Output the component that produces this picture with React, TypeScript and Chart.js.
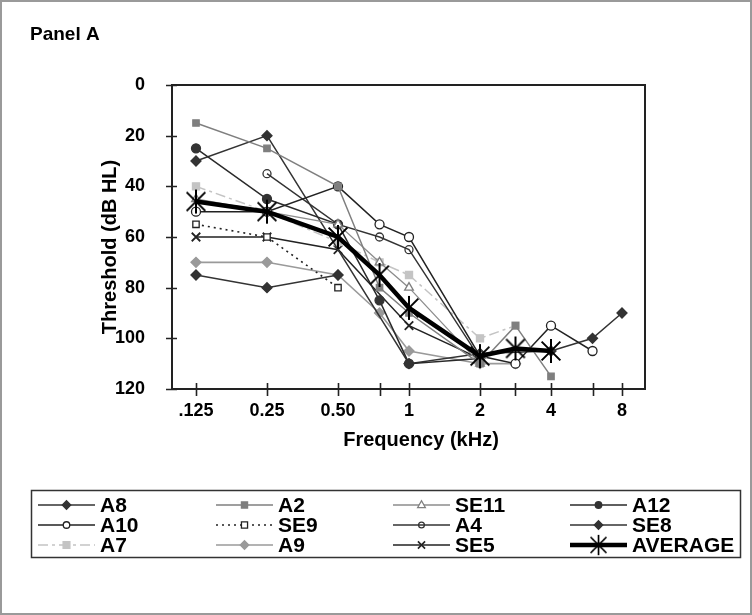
import React, { useEffect, useRef } from 'react';
import { Chart, registerables } from 'chart.js';
Chart.register(...registerables);

// Frequencies (kHz) and their position on the octave axis
const freqLabels = ['.125', '0.25', '0.50', '0.75', '1', '2', '3', '4', '6', '8'];
const xOctave = [0, 1, 2, 2.585, 3, 4, 4.5, 5, 5.585, 6];
const shownLabels = ['.125', '0.25', '0.50', '1', '2', '4', '8'];
const yTickValues = [0, 20, 40, 60, 80, 100, 120];

// Thresholds (dB HL) per frequency, null = no data
const A8 = [75, 80, 75, null, null, null, null, null, null, null];
const A2 = [15, 25, 40, 80, 90, 110, 95, 115, null, null];
const SE11 = [45, 50, 55, 70, 80, 110, null, null, null, null];
const A12 = [25, 45, 55, 85, 110, 108, null, null, null, null];
const A10 = [50, 50, 40, 55, 60, 107, 110, 95, 105, null];
const SE9 = [55, 60, 80, null, null, null, null, null, null, null];
const A4 = [null, 35, 55, 60, 65, 108, null, null, null, null];
const SE8 = [30, 20, null, null, 110, 106, null, 105, 100, 90];
const A7 = [40, 50, 62, 70, 75, 100, 95, null, null, null];
const A9 = [70, 70, 75, 90, 105, 110, 110, null, null, null];
const SE5 = [60, 60, 65, null, 95, 108, null, null, null, null];
const AVERAGE = [46, 50, 60, 75, 88, 107, 104, 105, null, null];

const FONT = "'Liberation Sans', Arial, sans-serif";

function toPoints(vals: (number | null)[]) {
  const out: { x: number; y: number }[] = [];
  vals.forEach((v, i) => {
    if (v !== null) out.push({ x: xOctave[i], y: v });
  });
  return out;
}

function makeAsterisk(size: number, lw: number, color: string) {
  const c = document.createElement('canvas');
  c.width = size;
  c.height = size;
  const g = c.getContext('2d')!;
  const m = size / 2;
  const r = size / 2 - 1;
  g.strokeStyle = color;
  g.lineWidth = lw;
  g.beginPath();
  g.moveTo(m, m - r);
  g.lineTo(m, m + r);
  const d = r * 0.78;
  g.moveTo(m - d, m - d);
  g.lineTo(m + d, m + d);
  g.moveTo(m + d, m - d);
  g.lineTo(m - d, m + d);
  g.stroke();
  return c;
}

type Style = {
  label: string;
  data: (number | null)[];
  color: string;
  width: number;
  dash: number[];
  marker: string;
  r: number;
  fill: string;
  mstroke: string;
};

const series: Style[] = [
  { label: 'A8', data: A8, color: '#333333', width: 1.5, dash: [], marker: 'diamond', r: 5, fill: '#333333', mstroke: '#333333' },
  { label: 'A2', data: A2, color: '#7f7f7f', width: 1.5, dash: [], marker: 'square', r: 4.5, fill: '#7f7f7f', mstroke: '#7f7f7f' },
  { label: 'SE11', data: SE11, color: '#8c8c8c', width: 1.3, dash: [], marker: 'triangle', r: 5, fill: '#ffffff', mstroke: '#7f7f7f' },
  { label: 'A12', data: A12, color: '#2a2a2a', width: 1.5, dash: [], marker: 'circle', r: 4.5, fill: '#333333', mstroke: '#333333' },
  { label: 'A10', data: A10, color: '#222222', width: 1.5, dash: [], marker: 'circle', r: 4.5, fill: '#ffffff', mstroke: '#222222' },
  { label: 'SE9', data: SE9, color: '#222222', width: 1.6, dash: [2, 4], marker: 'square', r: 4.5, fill: '#ffffff', mstroke: '#222222' },
  { label: 'A4', data: A4, color: '#333333', width: 1.4, dash: [], marker: 'circleLine', r: 4, fill: 'rgba(255,255,255,0)', mstroke: '#333333' },
  { label: 'SE8', data: SE8, color: '#333333', width: 1.5, dash: [], marker: 'diamond', r: 5, fill: '#333333', mstroke: '#333333' },
  { label: 'A7', data: A7, color: '#c4c4c4', width: 1.5, dash: [10, 4, 3, 4], marker: 'square', r: 5, fill: '#c4c4c4', mstroke: '#c4c4c4' },
  { label: 'A9', data: A9, color: '#9a9a9a', width: 1.6, dash: [], marker: 'diamond', r: 5, fill: '#9a9a9a', mstroke: '#9a9a9a' },
  { label: 'SE5', data: SE5, color: '#222222', width: 1.5, dash: [], marker: 'x', r: 6, fill: '#222222', mstroke: '#222222' },
  { label: 'AVERAGE', data: AVERAGE, color: '#000000', width: 4.5, dash: [], marker: 'asterisk', r: 12, fill: '#000000', mstroke: '#000000' },
];

const chartStyle: Record<string, string> = {
  diamond: 'rectRot',
  square: 'rect',
  triangle: 'triangle',
  circle: 'circle',
  circleLine: 'circle',
  x: 'crossRot',
};

function drawMarker(ctx: CanvasRenderingContext2D, s: Style, x: number, y: number, scale: number, star: HTMLCanvasElement) {
  const r = s.r * scale;
  ctx.save();
  ctx.setLineDash([]);
  ctx.fillStyle = s.fill;
  ctx.strokeStyle = s.mstroke;
  ctx.lineWidth = 1.3;
  ctx.beginPath();
  switch (s.marker) {
    case 'diamond':
      ctx.moveTo(x, y - r); ctx.lineTo(x + r, y); ctx.lineTo(x, y + r); ctx.lineTo(x - r, y); ctx.closePath();
      ctx.fill(); ctx.stroke();
      break;
    case 'square': {
      const h = r * 0.8;
      ctx.rect(x - h, y - h, 2 * h, 2 * h);
      ctx.fill(); ctx.stroke();
      break;
    }
    case 'triangle':
      ctx.moveTo(x, y - r); ctx.lineTo(x + r * 0.9, y + r * 0.6); ctx.lineTo(x - r * 0.9, y + r * 0.6); ctx.closePath();
      ctx.fill(); ctx.stroke();
      break;
    case 'circle':
    case 'circleLine':
      ctx.arc(x, y, r * 0.85, 0, Math.PI * 2);
      ctx.fill(); ctx.stroke();
      break;
    case 'x': {
      const d = r * 0.7;
      ctx.moveTo(x - d, y - d); ctx.lineTo(x + d, y + d);
      ctx.moveTo(x + d, y - d); ctx.lineTo(x - d, y + d);
      ctx.lineWidth = 1.6;
      ctx.stroke();
      break;
    }
    case 'asterisk': {
      const w = star.width * scale;
      ctx.drawImage(star, x - w / 2, y - w / 2, w, w);
      break;
    }
  }
  ctx.restore();
}

export default function App() {
  const ref = useRef<HTMLCanvasElement>(null);

  useEffect(() => {
    const canvas = ref.current!;
    const star = makeAsterisk(26, 2, '#000');

    const datasets = series.map((s) => ({
      label: s.label,
      data: toPoints(s.data),
      borderColor: s.color,
      borderWidth: s.width,
      borderDash: s.dash,
      backgroundColor: s.fill,
      pointStyle: s.marker === 'asterisk' ? (star as any) : chartStyle[s.marker],
      pointRadius: s.r,
      pointBackgroundColor: s.fill,
      pointBorderColor: s.mstroke,
      pointBorderWidth: s.marker === 'x' ? 1.8 : 1.3,
      tension: 0,
      fill: false,
      order: s.label === 'AVERAGE' ? -1 : 0,
    }));

    const decor = {
      id: 'decor',
      beforeDraw(c: any) {
        const ctx = c.ctx as CanvasRenderingContext2D;
        ctx.save();
        ctx.fillStyle = '#ffffff';
        ctx.fillRect(0, 0, c.width, c.height);
        ctx.restore();
      },
      afterDraw(c: any) {
        const ctx = c.ctx as CanvasRenderingContext2D;
        const a = c.chartArea;
        const xs = c.scales.x;
        const ys = c.scales.y;
        ctx.save();
        // outer frame
        ctx.strokeStyle = '#9a9a9a';
        ctx.lineWidth = 2;
        ctx.strokeRect(1, 1, 750, 613);
        // plot box
        ctx.strokeStyle = '#222';
        ctx.lineWidth = 2;
        ctx.strokeRect(a.left, a.top, a.right - a.left, a.bottom - a.top);
        // tick marks crossing axes
        ctx.lineWidth = 1.6;
        ctx.beginPath();
        xs.ticks.forEach((t: any) => {
          const px = Math.round(xs.getPixelForValue(t.value)) + 0.5;
          ctx.moveTo(px, a.bottom - 6);
          ctx.lineTo(px, a.bottom + 7);
        });
        ys.ticks.forEach((t: any) => {
          const py = Math.round(ys.getPixelForValue(t.value)) + 0.5;
          ctx.moveTo(a.left - 6, py);
          ctx.lineTo(a.left + 5, py);
        });
        ctx.stroke();
        // titles
        ctx.fillStyle = '#000';
        ctx.textAlign = 'left';
        ctx.textBaseline = 'middle';
        ctx.font = `bold 19px ${FONT}`;
        ctx.fillText('Panel A', 30, 35);
        ctx.font = `bold 20px ${FONT}`;
        ctx.textAlign = 'center';
        ctx.fillText('Frequency (kHz)', 421, 440);
        ctx.save();
        ctx.translate(110, 247);
        ctx.rotate(-Math.PI / 2);
        ctx.fillText('Threshold (dB HL)', 0, 0);
        ctx.restore();
        // legend
        ctx.strokeStyle = '#333';
        ctx.lineWidth = 1.5;
        ctx.strokeRect(31.5, 490.5, 709, 67);
        const cols = [38, 216, 393, 570];
        const rows = [505, 525, 545];
        const len = 57;
        ctx.font = `bold 21px ${FONT}`;
        ctx.textAlign = 'left';
        ctx.textBaseline = 'middle';
        series.forEach((s, i) => {
          const x0 = cols[i % 4];
          const y0 = rows[Math.floor(i / 4)];
          ctx.save();
          ctx.strokeStyle = s.color;
          ctx.lineWidth = s.width;
          ctx.setLineDash(s.dash);
          ctx.beginPath();
          ctx.moveTo(x0, y0);
          ctx.lineTo(x0 + len, y0);
          ctx.stroke();
          ctx.restore();
          drawMarker(ctx, s, x0 + len / 2, y0, 0.85, star);
          ctx.fillStyle = '#000';
          ctx.fillText(s.label, x0 + len + 5, y0 + 1);
        });
        ctx.restore();
      },
    };

    const chart = new Chart(canvas, {
      type: 'line',
      data: { datasets: datasets as any },
      options: {
        animation: false,
        responsive: false,
        devicePixelRatio: 1,
        layout: { padding: { top: 85, right: 107, bottom: 166, left: 0 } },
        plugins: { legend: { display: false }, tooltip: { enabled: false } },
        scales: {
          x: {
            type: 'linear',
            min: -0.338,
            max: 6.324,
            grid: { display: false },
            border: { display: false },
            afterFit: (s: any) => { s.height = 60; },
            afterBuildTicks: (s: any) => { s.ticks = xOctave.map((v) => ({ value: v })); },
            ticks: {
              autoSkip: false,
              maxRotation: 0,
              padding: 3,
              color: '#000',
              font: { family: FONT, size: 18, weight: 'bold' },
              callback: (v: any) => {
                const i = xOctave.indexOf(Number(v));
                const l = i >= 0 ? freqLabels[i] : '';
                return shownLabels.includes(l) ? l : '';
              },
            },
          },
          y: {
            type: 'linear',
            reverse: true,
            min: 0,
            max: 120,
            grid: { display: false },
            border: { display: false },
            afterFit: (s: any) => { s.width = 172; },
            afterBuildTicks: (s: any) => { s.ticks = yTickValues.map((v) => ({ value: v })); },
            ticks: {
              padding: 19,
              color: '#000',
              font: { family: FONT, size: 18, weight: 'bold' },
            },
          },
        },
      },
      plugins: [decor],
    });
    return () => chart.destroy();
  }, []);

  return (
    <div style={{ position: 'fixed', left: 0, top: 0, width: 752, height: 615, background: '#fff' }}>
      <canvas ref={ref} width={752} height={615} style={{ display: 'block', width: 752, height: 615 }} />
    </div>
  );
}
